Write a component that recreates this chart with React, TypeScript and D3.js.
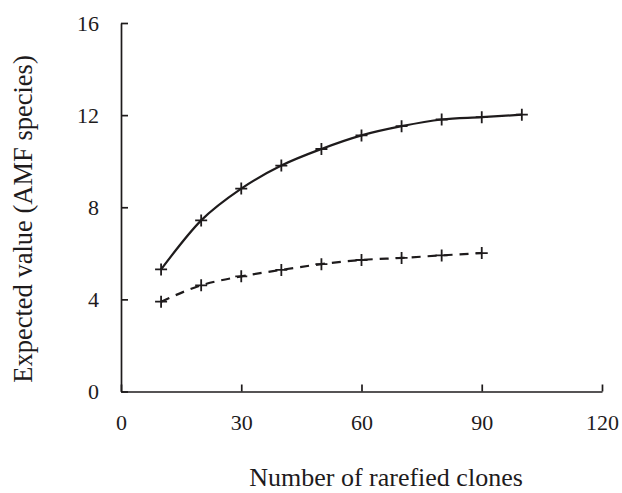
import React, { useRef, useEffect } from "react";
import * as d3 from "d3";

// rarefaction data
const clones = [10, 20, 30, 40, 50, 60, 70, 80, 90, 100];
const solidValues = [5.3, 7.43, 8.81, 9.81, 10.53, 11.12, 11.52, 11.81, 11.91, 12.02];
const dashedClones = [10, 20, 30, 40, 50, 60, 70, 80, 90];
const dashedValues = [3.9, 4.61, 5.0, 5.28, 5.53, 5.71, 5.8, 5.91, 6.01];
const xTicks = [0, 30, 60, 90, 120];
const yTicks = [0, 4, 8, 12, 16];

const W = 622;
const H = 493;
const FONT = "'Liberation Serif', 'Times New Roman', serif";

export default function App() {
  const svgRef = useRef<SVGSVGElement>(null);

  useEffect(() => {
    const svg = d3.select(svgRef.current);
    svg.selectAll("*").remove();

    const x = d3.scaleLinear().domain([0, 120]).range([121, 602]);
    const y = d3.scaleLinear().domain([0, 16]).range([391.5, 23]);

    const ink = "#1e1b1c";

    // y axis, ticks pointing inward
    const yAxis = svg.append("g")
      .attr("transform", `translate(${x(0)},0)`)
      .call(d3.axisLeft(y).tickValues(yTicks).tickSize(-7).tickSizeOuter(0).tickPadding(22).tickFormat(d3.format("d")));
    // x axis
    const xAxis = svg.append("g")
      .attr("transform", `translate(0,${y(0)})`)
      .call(d3.axisBottom(x).tickValues(xTicks).tickSize(-7).tickSizeOuter(0).tickPadding(23).tickFormat(d3.format("d")));

    [yAxis, xAxis].forEach(g => {
      g.select(".domain").attr("stroke", ink).attr("stroke-width", 1.7);
      g.selectAll(".tick line").attr("stroke", ink).attr("stroke-width", 1.7);
      g.selectAll(".tick text")
        .attr("fill", ink)
        .style("font-family", FONT)
        .style("font-size", "22px");
    });

    const line = d3.line<[number, number]>()
      .x(d => x(d[0]))
      .y(d => y(d[1]))
      .curve(d3.curveMonotoneX);

    const series = [
      { pts: clones.map((c, i) => [c, solidValues[i]] as [number, number]), dash: null },
      { pts: dashedClones.map((c, i) => [c, dashedValues[i]] as [number, number]), dash: "9,7" },
    ];

    series.forEach(s => {
      svg.append("path")
        .datum(s.pts)
        .attr("d", line)
        .attr("fill", "none")
        .attr("stroke", ink)
        .attr("stroke-width", 2.2)
        .attr("stroke-dasharray", s.dash);

      svg.append("g").selectAll("path")
        .data(s.pts)
        .enter()
        .append("path")
        .attr("d", d => {
          const cx = x(d[0]), cy = y(d[1]);
          return `M${cx - 6},${cy}H${cx + 6}M${cx},${cy - 6}V${cy + 6}`;
        })
        .attr("stroke", ink)
        .attr("stroke-width", 1.8)
        .attr("fill", "none");
    });

    svg.append("text")
      .attr("x", 386)
      .attr("y", 486)
      .attr("text-anchor", "middle")
      .attr("fill", ink)
      .style("font-family", FONT)
      .style("font-size", "26px")
      .text("Number of rarefied clones");

    svg.append("text")
      .attr("transform", `translate(32,219) rotate(-90)`)
      .attr("text-anchor", "middle")
      .attr("fill", ink)
      .style("font-family", FONT)
      .style("font-size", "26.5px")
      .text("Expected value (AMF species)");
  }, []);

  return (
    <svg ref={svgRef} width={W} height={H}
      style={{ position: "absolute", left: 0, top: 0, background: "#fff" }} />
  );
}
